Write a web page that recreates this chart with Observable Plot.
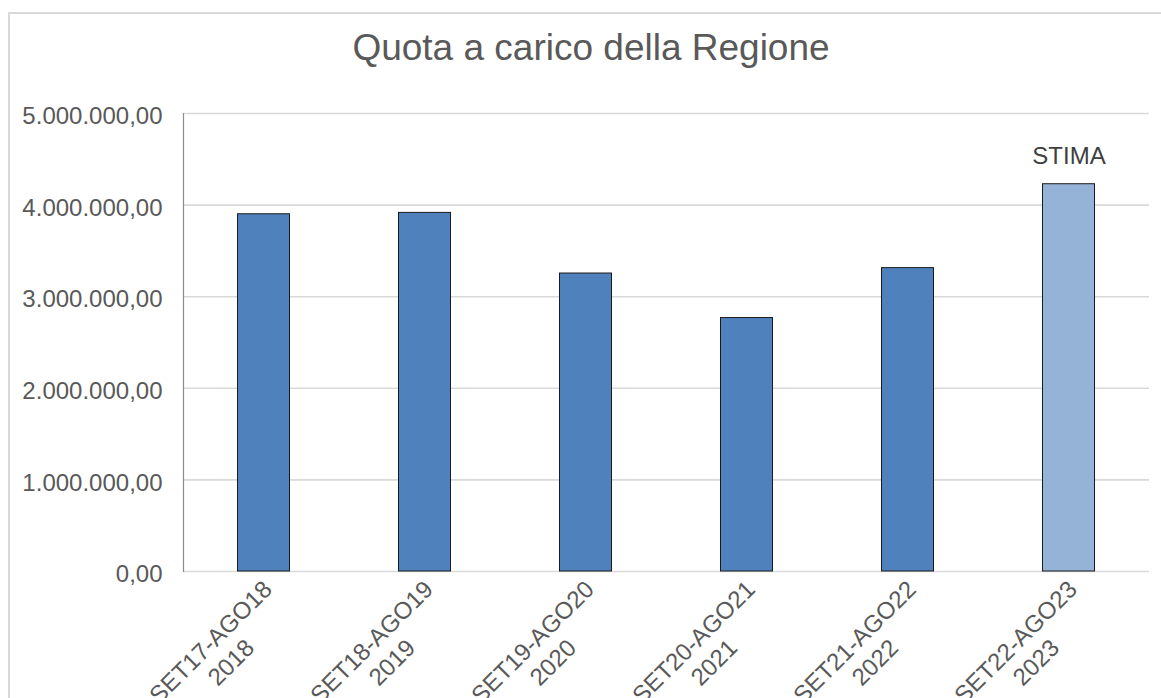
<!DOCTYPE html>
<html>
<head>
<meta charset="utf-8">
<script src="https://cdn.jsdelivr.net/npm/d3@7"></script>
<script src="https://cdn.jsdelivr.net/npm/@observablehq/plot@0.6"></script>
<style>
  html, body { margin: 0; padding: 0; background: #ffffff; }
  #wrap { position: relative; width: 1161px; height: 698px; overflow: hidden; font-family: "Liberation Sans", Arial, sans-serif; }
  #title { position: absolute; left: 591px; top: 29px; transform: translateX(-50%); white-space: nowrap;
           font-size: 37px; line-height: 37px; color: #595959; }
  #border { position: absolute; left: 8px; top: 12px; right: -10px; bottom: -10px;
            border-left: 2px solid #d9d9d9; border-top: 2px solid #d9d9d9; pointer-events: none; }
  #chart { position: absolute; left: 0; top: 0; }
</style>
</head>
<body>
<div id="wrap">
  <div id="chart"></div>
  <div id="title">Quota a carico della Regione</div>
  <div id="border"></div>
</div>
<script>
const periods = ["SET17-AGO18", "SET18-AGO19", "SET19-AGO20", "SET20-AGO21", "SET21-AGO22", "SET22-AGO23"];
const years = ["2018", "2019", "2020", "2021", "2022", "2023"];
const values = [3900000, 3915000, 3253000, 2767000, 3312000, 4228000];
const estimate = [false, false, false, false, false, true];
const yTicks = [0, 1000000, 2000000, 3000000, 4000000, 5000000];
const estimateLabel = "STIMA";

const data = periods.map((p, i) => ({
  period: p,
  label: p + "\n" + years[i],
  value: values[i],
  estimate: estimate[i]
}));

const itLocale = d3.formatLocale({decimal: ",", thousands: ".", grouping: [3], currency: ["", " €"]});
const fmt = itLocale.format(",.2f");

const chart = Plot.plot({
  width: 1161,
  height: 698,
  marginTop: 113,
  marginBottom: 127,
  marginLeft: 183,
  marginRight: 12,
  style: { fontFamily: "'Liberation Sans', Arial, sans-serif", fontSize: "24px", color: "#595959", background: "transparent" },
  x: { domain: periods, axis: null, paddingInner: 0.677, paddingOuter: 0.3385, round: false },
  y: { domain: [0, 5000000], axis: null },
  marks: [
    Plot.gridY(yTicks, { stroke: "#d9d9d9", strokeOpacity: 1, strokeWidth: 1.6 }),
    Plot.frame({ anchor: "left", stroke: "#8c8c8c", strokeWidth: 1.2 }),
    Plot.axisY(yTicks, { tickFormat: fmt, tickSize: 0, tickPadding: 21, fontSize: 24, fill: "#595959", dy: 3, label: null }),
    Plot.barY(data, {
      x: "period", y: "value",
      fill: d => d.estimate ? "#95b3d7" : "#4f81bd",
      stroke: "#1a1a1a", strokeWidth: 1
    }),
    Plot.text(data.filter(d => d.estimate), {
      x: "period", y: "value", text: () => estimateLabel,
      fontSize: 24, fill: "#404040", lineAnchor: "middle", dy: -28
    }),
    Plot.text(data, {
      x: "period", frameAnchor: "bottom", text: "label",
      rotate: -45, textAnchor: "middle", lineAnchor: "middle", lineHeight: 1.2,
      fontSize: 24, fill: "#595959", dx: -44, dy: 80
    })
  ]
});
document.getElementById("chart").appendChild(chart);
</script>
</body>
</html>
